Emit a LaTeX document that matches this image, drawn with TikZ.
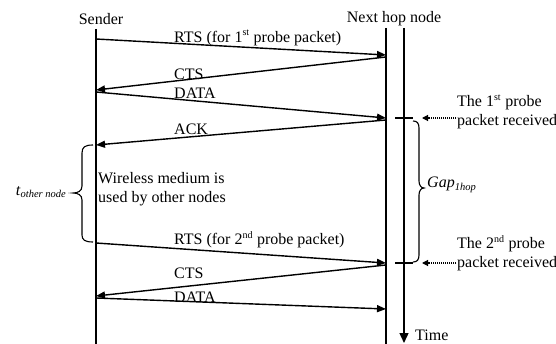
\documentclass[tikz,border=0pt]{standalone}
\usepackage{fontspec}
\setmainfont{Liberation Serif}
\usetikzlibrary{arrows.meta}
\newcommand{\sst}[1]{\textsuperscript{\fontsize{10}{10}\selectfont #1}}
\newcommand{\ssub}[1]{\raisebox{-0.35ex}{\fontsize{10.5}{10.5}\selectfont\itshape #1}}
\begin{document}
\begin{tikzpicture}[x=1pt,y=-1pt,
  every node/.style={font=\fontsize{16}{19}\selectfont, inner sep=0pt},
  lifeline/.style={line width=1.4pt},
  msg/.style={line width=1.4pt, -{Triangle[length=9pt,width=7pt]}},
  lbl/.style={anchor=west},
  brc/.style={line width=1.1pt},
  tick/.style={line width=1.4pt},
  note/.style={anchor=west, align=left},
  pointer/.style={line width=1.1pt, dash pattern=on 1pt off 1pt, -{Triangle[length=6pt,width=6pt]}}]
\fill[white] (0,0) rectangle (556,344);
\useasboundingbox (0,0) rectangle (556,344);

% headers
\node (sender) at (101,19) {Sender};
\node (nexthop) at (394,19) {Next hop node};

% lifelines
\coordinate (stop) at (96,29);
\coordinate (sbot) at (96,344);
\coordinate (ntop) at (386,28);
\coordinate (nbot) at (386,344);
\coordinate (ttop) at (404,28);
\coordinate (tbot) at (404,343);
\draw[lifeline] (stop) -- (sbot);
\draw[lifeline] (ntop) -- (nbot);
\draw[lifeline, -{Triangle[length=10pt,width=9pt]}] (ttop) -- (tbot);
\node[anchor=west] (time) at (415,335) {Time};

% message end points
\coordinate (s1) at (96,39);   \coordinate (n1) at (386,55);
\coordinate (n2) at (386,57);  \coordinate (s2) at (96,90);
\coordinate (s3) at (96,92);   \coordinate (n3) at (386,118);
\coordinate (n4) at (386,120); \coordinate (s4) at (96,145);
\coordinate (s5) at (96,243);  \coordinate (n5) at (386,263);
\coordinate (n6) at (386,265); \coordinate (s6) at (96,296);
\coordinate (s7) at (96,298);  \coordinate (n7) at (386,309);

\draw[msg] (s1) -- (n1);
\draw[msg] (n2) -- (s2);
\draw[msg] (s3) -- (n3);
\draw[msg] (n4) -- (s4);
\draw[msg] (s5) -- (n5);
\draw[msg] (n6) -- (s6);
\draw[msg] (s7) -- (n7);

% message labels
\node[lbl] (l1) at (174,38) {RTS (for 1\sst{st} probe packet)};
\node[lbl] (l2) at (174,74) {CTS};
\node[lbl] (l3) at (174,93) {DATA};
\node[lbl] (l4) at (174,129) {ACK};
\node[lbl] (l5) at (174,240) {RTS (for 2\sst{nd} probe packet)};
\node[lbl] (l6) at (174,273) {CTS};
\node[lbl] (l7) at (174,297) {DATA};

\node[note] (wm) at (98,189) {Wireless medium is\\used by other nodes};

% left brace
\draw[brc] (93,145) .. controls (85,145) and (82,147) .. (82,153) -- (82,186)
  .. controls (82,191) and (78,193) .. (73,193)
  .. controls (78,193) and (82,195) .. (82,200) -- (82,235)
  .. controls (82,240) and (85,242) .. (93,242);
\node[anchor=east] (tother) at (66,192) {\textit{t}\ssub{other node}};

% ticks
\coordinate (k1a) at (395,118); \coordinate (k1b) at (413,118);
\coordinate (k2a) at (395,263); \coordinate (k2b) at (413,263);
\draw[tick] (k1a) -- (k1b);
\draw[tick] (k2a) -- (k2b);

% right brace
\draw[brc] (413,121) .. controls (417,121) and (419,123) .. (419,128) -- (419,181)
  .. controls (419,185) and (421,188) .. (424,188)
  .. controls (421,188) and (419,191) .. (419,195) -- (419,255)
  .. controls (419,260) and (417,262) .. (413,262);
\node[anchor=west] (gap) at (427,185) {\textit{Gap}\ssub{1hop}};

% notes
\node[note] (r1) at (457,112) {The 1\sst{st} probe\\packet received};
\node[note] (r2) at (457,253) {The 2\sst{nd} probe\\packet received};
\coordinate (p1) at (456,118); \coordinate (q1) at (422,118);
\coordinate (p2) at (456,263); \coordinate (q2) at (422,263);
\draw[pointer] (p1) -- (q1);
\draw[pointer] (p2) -- (q2);
\end{tikzpicture}
\end{document}
